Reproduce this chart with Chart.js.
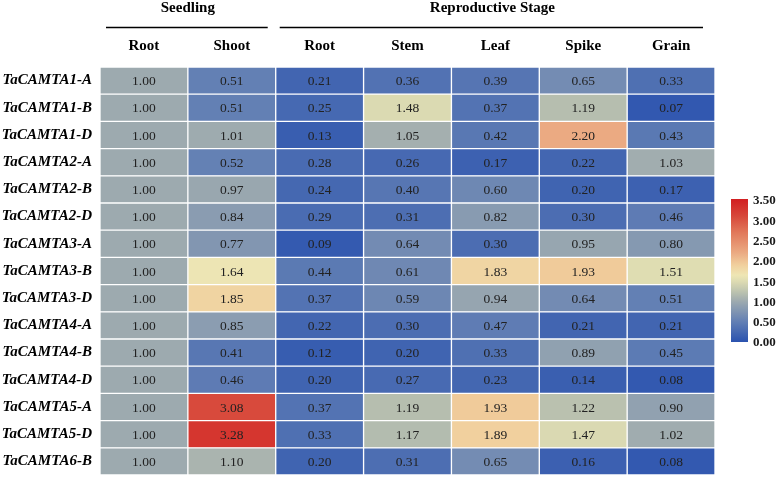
<!DOCTYPE html>
<html>
<head>
<meta charset="utf-8">
<script src="https://cdn.jsdelivr.net/npm/chart.js@4/dist/chart.umd.min.js"></script>
<style>
html,body{margin:0;padding:0;background:#fff;}
canvas{display:block;}
</style>
</head>
<body>
<canvas id="c" width="778" height="479"></canvas>
<script>
// ---- data ----
const genes = ["TaCAMTA1-A","TaCAMTA1-B","TaCAMTA1-D","TaCAMTA2-A","TaCAMTA2-B","TaCAMTA2-D","TaCAMTA3-A","TaCAMTA3-B","TaCAMTA3-D","TaCAMTA4-A","TaCAMTA4-B","TaCAMTA4-D","TaCAMTA5-A","TaCAMTA5-D","TaCAMTA6-B"];
const columns = ["Root","Shoot","Root","Stem","Leaf","Spike","Grain"];
const groups = ["Seedling","Reproductive Stage"];
const seedlingRoot = [1.00,1.00,1.00,1.00,1.00,1.00,1.00,1.00,1.00,1.00,1.00,1.00,1.00,1.00,1.00];
const seedlingShoot = [0.51,0.51,1.01,0.52,0.97,0.84,0.77,1.64,1.85,0.85,0.41,0.46,3.08,3.28,1.10];
const reproRoot = [0.21,0.25,0.13,0.28,0.24,0.29,0.09,0.44,0.37,0.22,0.12,0.20,0.37,0.33,0.20];
const reproStem = [0.36,1.48,1.05,0.26,0.40,0.31,0.64,0.61,0.59,0.30,0.20,0.27,1.19,1.17,0.31];
const reproLeaf = [0.39,0.37,0.42,0.17,0.60,0.82,0.30,1.83,0.94,0.47,0.33,0.23,1.93,1.89,0.65];
const reproSpike = [0.65,1.19,2.20,0.22,0.20,0.30,0.95,1.93,0.64,0.21,0.89,0.14,1.22,1.47,0.16];
const reproGrain = [0.33,0.07,0.43,1.03,0.17,0.46,0.80,1.51,0.51,0.21,0.45,0.08,0.90,1.02,0.08];
const colorTicks = [0.00,0.50,1.00,1.50,2.00,2.50,3.00,3.50];

const colValues = [seedlingRoot,seedlingShoot,reproRoot,reproStem,reproLeaf,reproSpike,reproGrain];
const vmin = 0, vmax = 3.5;

// colour map stops
const stops = [
  [0.0,[42,82,175]],
  [0.5,[98,127,180]],
  [1.0,[157,170,175]],
  [1.25,[190,196,175]],
  [1.5,[222,220,178]],
  [1.65,[238,230,180]],
  [1.9,[241,207,157]],
  [2.2,[235,170,130]],
  [2.7,[225,120,90]],
  [3.1,[215,72,58]],
  [3.5,[210,32,34]]
];
function colorFor(v){
  v = Math.max(vmin, Math.min(vmax, v));
  for (let i=0;i<stops.length-1;i++){
    const [a,ca]=stops[i],[b,cb]=stops[i+1];
    if (v>=a && v<=b){
      const t=(v-a)/(b-a);
      const c=ca.map((x,k)=>Math.round(x+(cb[k]-x)*t));
      return `rgb(${c[0]},${c[1]},${c[2]})`;
    }
  }
  const c=stops[stops.length-1][1];
  return `rgb(${c[0]},${c[1]},${c[2]})`;
}

const datasets = colValues.map((vals,ci)=>({
  label: columns[ci],
  data: vals.map(()=>1),
  values: vals,
  backgroundColor: vals.map(colorFor),
  borderColor: '#ffffff',
  borderWidth: 1,
  borderSkipped: false,
  categoryPercentage: 1,
  barPercentage: 1
}));

const serif = '"Liberation Serif", "Times New Roman", serif';

const overlay = {
  id:'overlay',
  afterDatasetsDraw(chart){
    const ctx = chart.ctx;
    ctx.save();
    // cell values
    ctx.font = '13.5px ' + serif;
    ctx.fillStyle = '#222';
    ctx.textAlign = 'center';
    ctx.textBaseline = 'middle';
    chart.data.datasets.forEach((ds,di)=>{
      const meta = chart.getDatasetMeta(di);
      meta.data.forEach((el,i)=>{
        const cx = (el.x + el.base)/2;
        ctx.fillText(ds.values[i].toFixed(2), cx, el.y+1);
      });
    });
    // group headers
    const xs = chart.scales.x;
    ctx.fillStyle = '#000';
    ctx.font = 'bold 15px ' + serif;
    ctx.textBaseline = 'middle';
    ctx.fillText(groups[0], xs.getPixelForValue(1), 8);
    ctx.fillText(groups[1], (xs.getPixelForValue(2)+xs.getPixelForValue(7))/2 - 3, 8);
    ctx.strokeStyle = '#000';
    ctx.lineWidth = 1.5;
    ctx.beginPath();
    ctx.moveTo(xs.getPixelForValue(0)+6, 27.5);
    ctx.lineTo(xs.getPixelForValue(2)-8, 27.5);
    ctx.moveTo(xs.getPixelForValue(2)+4, 27.5);
    ctx.lineTo(xs.getPixelForValue(7)-12, 27.5);
    ctx.stroke();
    // colour bar
    const bx=731, bw=17, top=200, bottom=342;
    const grad = ctx.createLinearGradient(0,bottom,0,top);
    for (let k=0;k<=70;k++){
      const v = vmin + (vmax-vmin)*k/70;
      grad.addColorStop(k/70, colorFor(v));
    }
    ctx.fillStyle = grad;
    ctx.fillRect(bx, top-1, bw, bottom-top+1);
    ctx.fillStyle = '#1a1a1a';
    ctx.font = 'bold 13px ' + serif;
    ctx.textAlign = 'left';
    ctx.textBaseline = 'middle';
    colorTicks.forEach(t=>{
      const y = bottom - (t - vmin)/(vmax-vmin)*(bottom-top);
      ctx.fillText(t.toFixed(2), 753, y+1);
    });
    ctx.restore();
  }
};

new Chart(document.getElementById('c'), {
  type:'bar',
  data:{ labels: genes, datasets },
  options:{
    indexAxis:'y',
    responsive:false,
    animation:false,
    devicePixelRatio:1,
    layout:{ padding:{ left:0, right:63, top:32, bottom:4 } },
    plugins:{ legend:{display:false}, tooltip:{enabled:false} },
    scales:{
      x:{
        type:'linear', min:0, max:7, position:'top', stacked:true,
        grid:{display:false, drawTicks:false}, border:{display:false},
        afterBuildTicks(scale){ scale.ticks = columns.map((c,i)=>({value:i+0.5})); },
        afterFit(scale){ scale.height = 35; scale.paddingLeft = 0; scale.paddingRight = 0; },
        ticks:{
          autoSkip:false, maxRotation:0, padding:12, color:'#000',
          font:{ family:serif, size:15, weight:'bold' },
          callback:(v,i)=>columns[i]
        }
      },
      y:{
        type:'category', stacked:true,
        grid:{display:false, drawTicks:false}, border:{display:false},
        afterFit(scale){ scale.width = 100; scale.paddingTop = 0; scale.paddingBottom = 0; },
        ticks:{
          autoSkip:false, padding:8, color:'#000',
          font:{ family:serif, size:15, weight:'bold', style:'italic' }
        }
      }
    }
  },
  plugins:[overlay]
});
</script>
</body>
</html>
